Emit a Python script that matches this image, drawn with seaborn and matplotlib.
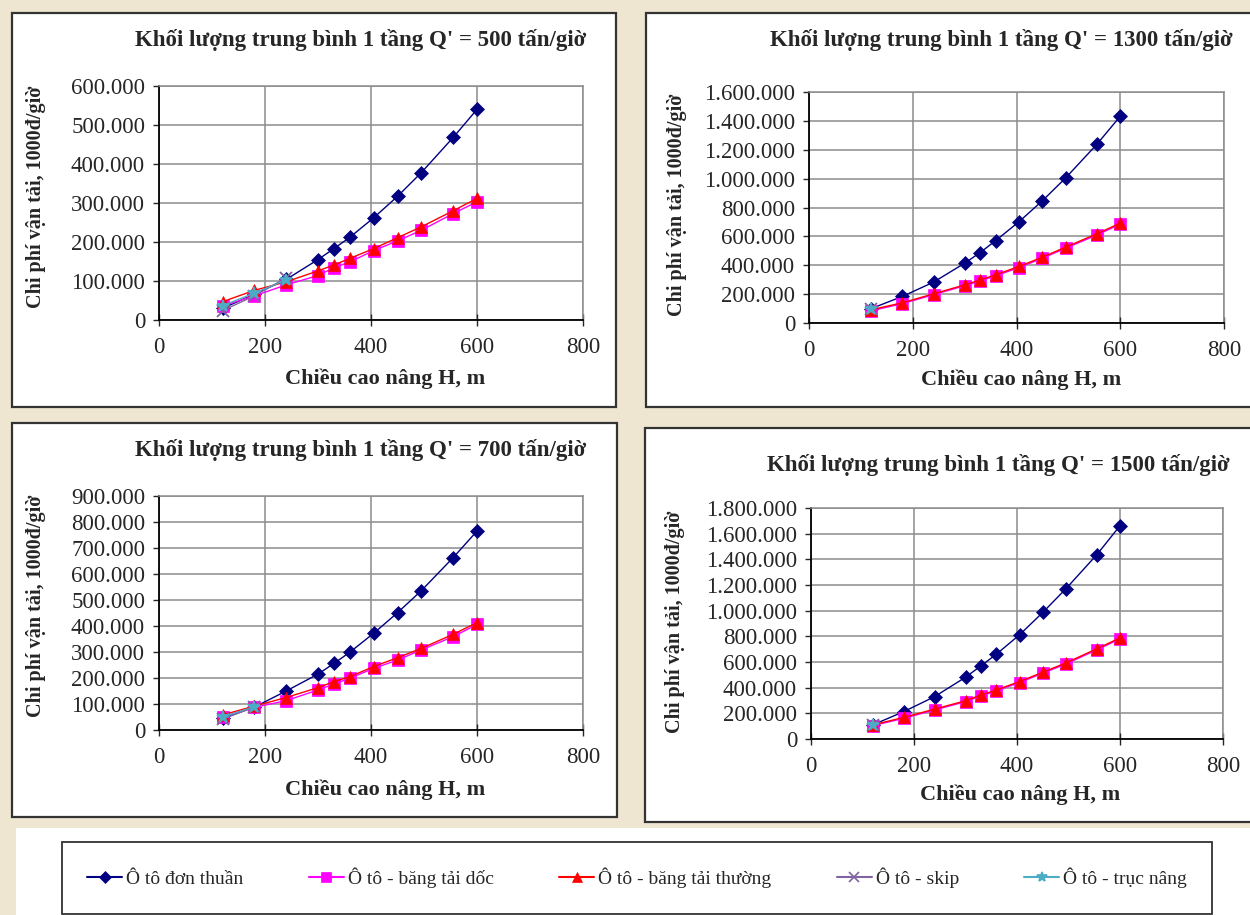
import matplotlib.pyplot as plt
import numpy as np
import pandas as pd
import seaborn as sns
from matplotlib.lines import Line2D
from matplotlib.patches import Rectangle
from matplotlib.ticker import FuncFormatter, MultipleLocator

# chiều cao nâng H, m
H = [120, 180, 240, 300, 330, 360, 405, 450, 495, 555, 600]

# chi phí vận tải, 1000đ/giờ (đơn vị: nghìn)
don_thuan_500 = [30, 66, 104, 155, 183, 212, 262, 317, 378, 468, 540]
bang_doc_500 = [36, 62, 90, 114, 134, 149, 178, 203, 230, 273, 303]
bang_thuong_500 = [47, 76, 98, 126, 141, 158, 183, 211, 239, 280, 312]
skip_500 = [24, 62, 108]
truc_500 = [37, 69, 103]

don_thuan_1300 = [100, 184, 283, 414, 488, 571, 702, 847, 1006, 1238, 1432]
bang_doc_1300 = [85, 134, 196, 258, 292, 327, 384, 449, 518, 610, 684]
bang_thuong_1300 = [92, 140, 202, 264, 298, 334, 392, 456, 526, 618, 692]
skip_1300 = [98]
truc_1300 = [100]

don_thuan_700 = [45, 88, 150, 215, 256, 299, 372, 451, 536, 663, 765]
bang_doc_700 = [51, 87, 113, 154, 177, 199, 237, 269, 308, 359, 406]
bang_thuong_700 = [58, 92, 125, 163, 186, 205, 244, 278, 314, 368, 413]
skip_700 = [42, 88]
truc_700 = [50, 90]

don_thuan_1500 = [110, 213, 330, 481, 570, 661, 812, 986, 1171, 1436, 1662]
bang_doc_1500 = [104, 161, 226, 291, 336, 375, 440, 512, 585, 695, 780]
bang_thuong_1500 = [110, 168, 233, 298, 343, 382, 448, 520, 593, 703, 788]
skip_1500 = [108]
truc_1500 = [110]

SERIES = ["Ô tô đơn thuần", "Ô tô - băng tải dốc", "Ô tô - băng tải thường",
          "Ô tô - skip", "Ô tô - trục nâng"]
COLORS = ["#000080", "#ff00ff", "#ff0000", "#8064a2", "#4bacc6"]
MARKERS = ["D", "s", "^", "x", "*"]
MSIZE = [7.5, 8.5, 8, 8, 9]

PANEL_DATA = {
    500: [don_thuan_500, bang_doc_500, bang_thuong_500, skip_500, truc_500],
    1300: [don_thuan_1300, bang_doc_1300, bang_thuong_1300, skip_1300, truc_1300],
    700: [don_thuan_700, bang_doc_700, bang_thuong_700, skip_700, truc_700],
    1500: [don_thuan_1500, bang_doc_1500, bang_thuong_1500, skip_1500, truc_1500],
}

W, HGT = 1250, 915


def fx(px):
    return px / W


def fy(py):
    return 1 - py / HGT


def box(x0, y0, x1, y1):
    return [fx(x0), fy(y1), fx(x1) - fx(x0), fy(y0) - fy(y1)]


def long_frame(q):
    rows = []
    for name, vals in zip(SERIES, PANEL_DATA[q]):
        for h, v in zip(H, vals):
            rows.append({"H": h, "cost": v * 1000, "series": name})
    return pd.DataFrame(rows)


def thousands(v, _):
    return f"{v:,.0f}".replace(",", ".")


sns.set_theme(style="white")
plt.rcParams["font.family"] = ["Liberation Serif", "DejaVu Serif"]

fig = plt.figure(figsize=(12.5, 9.15), dpi=100)
fig.patch.set_facecolor("#eee6d1")

# frame, axes box (pixels), y max, y step, title / ylabel / xlabel centres
panels = [
    (500, (12, 13, 616, 407), (159, 86, 583, 320), 600000, 100000, (361, 40), (36, 197), (385, 379)),
    (1300, (646, 13, 1260, 407), (809, 92, 1224, 323), 1600000, 200000, (1001, 40), (677, 205), (1021, 380)),
    (700, (12, 423, 617, 817), (159, 496, 583, 730), 900000, 100000, (361, 450), (36, 606), (385, 790)),
    (1500, (645, 428, 1260, 822), (811, 508, 1223, 739), 1800000, 200000, (998, 465), (675, 622), (1020, 795)),
]

for q, frame, axbox, ymax, ystep, tpos, ylpos, xlpos in panels:
    x0, y0, x1, y1 = frame
    fig.add_artist(Rectangle((fx(x0), fy(y1)), fx(x1) - fx(x0), fy(y0) - fy(y1),
                             transform=fig.transFigure, facecolor="white",
                             edgecolor="#333333", lw=1.6, zorder=0))
    ax = fig.add_axes(box(*axbox))
    df = long_frame(q)
    for name, c, m, ms in zip(SERIES, COLORS, MARKERS, MSIZE):
        sub = df[df["series"] == name]
        sns.lineplot(data=sub, x="H", y="cost", ax=ax, color=c, marker=m, markersize=ms,
                     markeredgecolor=c, markeredgewidth=1.3 if m in "x*" else 0.5,
                     lw=1.0, sort=False, legend=False, clip_on=False)
    ax.set_xlim(0, 800)
    ax.set_ylim(0, ymax)
    ax.xaxis.set_major_locator(MultipleLocator(200))
    ax.yaxis.set_major_locator(MultipleLocator(ystep))
    ax.yaxis.set_major_formatter(FuncFormatter(thousands))
    ax.grid(True, color="#8c8c8c", lw=1.1)
    ax.set_axisbelow(True)
    for s in ("top", "right"):
        ax.spines[s].set_color("#8c8c8c")
        ax.spines[s].set_linewidth(1.1)
    for s in ("left", "bottom"):
        ax.spines[s].set_color("black")
        ax.spines[s].set_linewidth(1.3)
    ax.tick_params(axis="y", direction="out", length=4, width=1, pad=6, labelsize=16.5,
                   left=True)
    ax.tick_params(axis="x", direction="inout", length=8, width=1, pad=8, labelsize=16.5,
                   bottom=True)
    ax.set_xlabel("")
    ax.set_ylabel("")
    fig.text(fx(tpos[0]), fy(tpos[1]), f"Khối lượng trung bình 1 tầng Q' = {q} tấn/giờ",
             ha="center", va="center", fontsize=16.5, fontweight="bold")
    fig.text(fx(ylpos[0]), fy(ylpos[1]), "Chi phí vận tải, 1000đ/giờ", rotation=90,
             ha="center", va="center", fontsize=14.5, fontweight="bold")
    fig.text(fx(xlpos[0]), fy(xlpos[1]), "Chiều cao nâng H, m",
             ha="center", va="center", fontsize=16, fontweight="bold")

# legend area
fig.add_artist(Rectangle((fx(16), fy(915)), fx(1250) - fx(16), fy(828) - fy(915),
                         transform=fig.transFigure, facecolor="white",
                         edgecolor="none", zorder=0))
handles = [Line2D([], [], color=c, marker=m, markersize=ms - 1.5, markeredgecolor=c,
                  markeredgewidth=1.2 if m in "x*" else 0.5, lw=1.5)
           for c, m, ms in zip(COLORS, MARKERS, MSIZE)]
leg = fig.legend(handles, SERIES, loc="center", ncol=5,
                 bbox_to_anchor=box(52, 842, 1222, 914), mode="expand",
                 frameon=True, fancybox=False, edgecolor="black", fontsize=14,
                 handlelength=1.8, handletextpad=0.2, borderpad=1.3)
leg.get_frame().set_linewidth(1.3)

fig.savefig("out.png", dpi=100, facecolor=fig.get_facecolor())
